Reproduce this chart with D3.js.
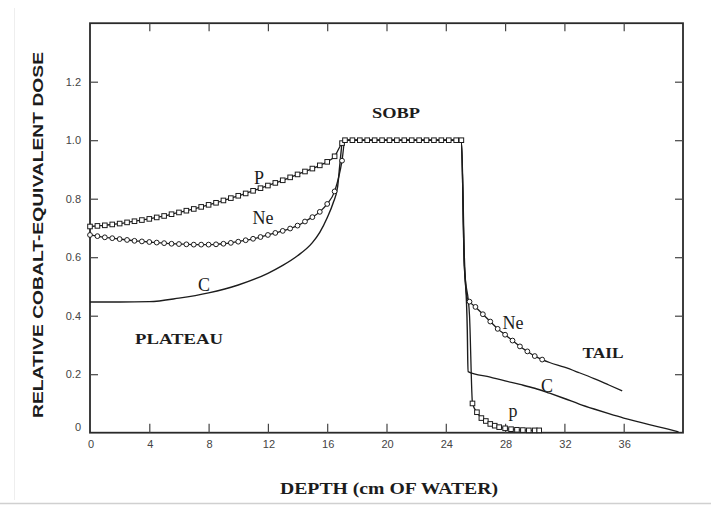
<!DOCTYPE html>
<html>
<head>
<meta charset="utf-8">
<script src="https://cdn.jsdelivr.net/npm/d3@7/dist/d3.min.js"></script>
<style>
  html, body { margin: 0; padding: 0; background: #fff; }
  svg { display: block; }
</style>
</head>
<body>
<svg id="chart" width="711" height="507"></svg>
<script>
// ---------------- DATA ----------------
const xTicks = [0, 4, 8, 12, 16, 20, 24, 28, 32, 36];
const xTickLabels = ["0", "4", "8", "12", "16", "20", "24", "28", "32", "36"];
const yTicks = [0, 0.2, 0.4, 0.6, 0.8, 1.0, 1.2];
const yTickLabels = ["0", "0.2", "0.4", "0.6", "0.8", "1.0", "1.2"];

// Plateau / rising part (shared depths for p and Ne)
const riseDepth = [0, 0.5, 1, 1.5, 2, 2.5, 3, 3.5, 4, 4.5, 5, 5.5, 6, 6.5, 7, 7.5, 8, 8.5,
  9, 9.5, 10, 10.5, 11, 11.5, 12, 12.5, 13, 13.5, 14, 14.5, 15, 15.5, 16, 16.5, 17];
const pRise = [0.705, 0.707, 0.709, 0.712, 0.715, 0.719, 0.723, 0.727, 0.731, 0.736, 0.741,
  0.747, 0.753, 0.759, 0.765, 0.772, 0.779, 0.786, 0.794, 0.802, 0.810, 0.818, 0.827, 0.836,
  0.845, 0.854, 0.863, 0.873, 0.883, 0.893, 0.903, 0.914, 0.926, 0.945, 0.99];
const neRise = [0.676, 0.672, 0.668, 0.665, 0.662, 0.659, 0.656, 0.654, 0.652, 0.650, 0.648,
  0.646, 0.645, 0.644, 0.643, 0.643, 0.643, 0.644, 0.646, 0.649, 0.653, 0.658, 0.663, 0.669,
  0.676, 0.683, 0.690, 0.698, 0.708, 0.722, 0.737, 0.755, 0.782, 0.825, 0.93];

// Spread-out Bragg peak (SOBP)
const sobpDepth = [17.2, 17.7, 18.2, 18.7, 19.2, 19.7, 20.2, 20.7, 21.2, 21.7, 22.2, 22.7,
  23.2, 23.7, 24.2, 24.7, 25.05];
const sobpDose = [1.0, 1.0, 1.0, 1.0, 1.0, 1.0, 1.0, 1.0, 1.0, 1.0, 1.0, 1.0,
  1.0, 1.0, 1.0, 1.0, 1.0];

// Distal fall-off
const pDropDepth = [25.25, 25.6];
const pDropDose = [0.57, 0.40];
const neDropDepth = [25.25, 25.45];
const neDropDose = [0.57, 0.46];

// Tails
const pTailDepth = [25.8, 26.1, 26.4, 26.7, 27.0, 27.3, 27.6, 28.0, 28.4, 28.8, 29.2, 29.6, 30.0, 30.3];
const pTailDose = [0.10, 0.07, 0.05, 0.04, 0.03, 0.024, 0.019, 0.015, 0.012, 0.010, 0.009, 0.008, 0.008, 0.008];
const neTailDepth = [25.6, 26.0, 26.5, 27.0, 27.5, 28.0, 28.5, 29.0, 29.5, 30.0, 30.5];
const neTailDose = [0.448, 0.43, 0.405, 0.38, 0.355, 0.335, 0.315, 0.295, 0.278, 0.262, 0.25];
const neTailLineDepth = [31, 32, 33, 34, 35, 35.9];
const neTailLineDose = [0.24, 0.224, 0.205, 0.185, 0.163, 0.143];

// Carbon (solid line only)
const cDepth = [0, 2, 4, 6, 8, 10, 12, 13, 14, 15, 15.5, 16, 16.4, 16.7, 16.86, 17.05,
  25.05, 25.25, 25.45, 25.5, 27, 28, 29, 30, 31, 32, 33, 34, 35, 36, 37, 38, 39, 39.7];
const cDose = [0.447, 0.447, 0.448, 0.46, 0.478, 0.505, 0.545, 0.572, 0.605, 0.65, 0.685,
  0.735, 0.785, 0.84, 0.92, 1.0,
  1.0, 0.60, 0.35, 0.209, 0.19, 0.177, 0.165, 0.152, 0.135, 0.117, 0.098, 0.081, 0.065,
  0.05, 0.037, 0.024, 0.012, 0.003];

// ---------------- DRAW ----------------
const svg = d3.select("#chart");
const W = 711, H = 507;
const x = d3.scaleLinear().domain([0, 40]).range([90, 683]);
const y = d3.scaleLinear().domain([0, 1.4]).range([432.7, 23.2]);
const ink = "#1c1c1c";

const zip = (a, b) => a.map((d, i) => [d, b[i]]);

// faint scan edges
svg.append("line").attr("x1", 0).attr("x2", W).attr("y1", 503.5).attr("y2", 503.5)
  .attr("stroke", "#d0d0d0").attr("stroke-width", 1.5);
svg.append("line").attr("x1", 14.5).attr("x2", 14.5).attr("y1", 8).attr("y2", 500)
  .attr("stroke", "#eeeeee").attr("stroke-width", 1);

// frame
svg.append("rect")
  .attr("x", x(0)).attr("y", y(1.4))
  .attr("width", x(40) - x(0)).attr("height", y(0) - y(1.4))
  .attr("fill", "none").attr("stroke", "#2a2a2a").attr("stroke-width", 1.8);

// axes with inward ticks
const bottomAxis = d3.axisBottom(x).tickValues(xTicks.slice(1)).tickSize(-9).tickFormat("");
const topAxis = d3.axisTop(x).tickValues(xTicks.slice(1)).tickSize(-8).tickFormat("");
const leftAxis = d3.axisLeft(y).tickValues(yTicks.slice(1)).tickSize(-8).tickFormat("");
const rightAxis = d3.axisRight(y).tickValues(yTicks.slice(1)).tickSize(-8).tickFormat("");
function styleAxis(g) {
  g.select(".domain").remove();
  g.selectAll(".tick line").attr("stroke", "#444").attr("stroke-width", 1.2);
}
svg.append("g").attr("transform", `translate(0,${y(0)})`).call(bottomAxis).call(styleAxis);
svg.append("g").attr("transform", `translate(0,${y(1.4)})`).call(topAxis).call(styleAxis);
svg.append("g").attr("transform", `translate(${x(0)},0)`).call(leftAxis).call(styleAxis);
svg.append("g").attr("transform", `translate(${x(40)},0)`).call(rightAxis).call(styleAxis);

// tick labels
svg.append("g").selectAll("text").data(xTicks).join("text")
  .attr("x", d => x(d) + 1).attr("y", 448)
  .attr("text-anchor", "middle")
  .attr("font-family", "Liberation Sans Narrow, Liberation Sans, sans-serif")
  .attr("font-size", 11).attr("fill", "#444")
  .text((d, i) => xTickLabels[i]);
svg.append("g").selectAll("text").data(yTicks).join("text")
  .attr("x", 81).attr("y", d => d === 0 ? y(d) - 2 : y(d) + 4)
  .attr("text-anchor", "end")
  .attr("font-family", "Liberation Sans Narrow, Liberation Sans, sans-serif")
  .attr("font-size", 11).attr("fill", "#444")
  .text((d, i) => yTickLabels[i]);

// axis titles
svg.append("text")
  .attr("x", 389).attr("y", 494)
  .attr("text-anchor", "middle")
  .attr("font-family", "Liberation Serif, serif").attr("font-weight", "bold")
  .attr("font-size", 16).attr("fill", ink)
  .attr("textLength", 218).attr("lengthAdjust", "spacingAndGlyphs")
  .text("DEPTH  (cm  OF  WATER)");
svg.append("text")
  .attr("transform", "translate(43,235) rotate(-90)")
  .attr("text-anchor", "middle")
  .attr("font-family", "Liberation Sans, sans-serif").attr("font-weight", "bold")
  .attr("font-size", 14).attr("fill", ink)
  .attr("textLength", 366).attr("lengthAdjust", "spacingAndGlyphs")
  .text("RELATIVE COBALT-EQUIVALENT DOSE");

// curves
const line = d3.line().x(d => x(d[0])).y(d => y(d[1])).curve(d3.curveMonotoneX);
const g = svg.append("g");

const pLine = zip(riseDepth, pRise).concat(zip(sobpDepth, sobpDose), zip(pDropDepth, pDropDose), zip(pTailDepth, pTailDose));
const neLine = zip(riseDepth, neRise).concat(zip(sobpDepth, sobpDose), zip(neDropDepth, neDropDose),
  zip(neTailDepth, neTailDose), zip(neTailLineDepth, neTailLineDose));
const cLine = zip(cDepth, cDose);

g.append("path").datum(cLine).attr("d", line)
  .attr("fill", "none").attr("stroke", ink).attr("stroke-width", 1.4);
g.append("path").datum(neLine).attr("d", line)
  .attr("fill", "none").attr("stroke", ink).attr("stroke-width", 1.3);
g.append("path").datum(pLine).attr("d", line)
  .attr("fill", "none").attr("stroke", ink).attr("stroke-width", 1.3);

// markers: open circles for Ne, open squares for p
const neMarks = zip(riseDepth, neRise).concat(zip(neTailDepth, neTailDose));
g.append("g").selectAll("circle").data(neMarks).join("circle")
  .attr("cx", d => x(d[0])).attr("cy", d => y(d[1])).attr("r", 2.4)
  .attr("fill", "#fff").attr("stroke", ink).attr("stroke-width", 1);
const pMarks = zip(riseDepth, pRise).concat(zip(sobpDepth, sobpDose), zip(pTailDepth, pTailDose));
const sq = 4.6;
g.append("g").selectAll("rect").data(pMarks).join("rect")
  .attr("x", d => x(d[0]) - sq / 2).attr("y", d => y(d[1]) - sq / 2)
  .attr("width", sq).attr("height", sq)
  .attr("fill", "#fff").attr("stroke", ink).attr("stroke-width", 1);

// annotations
const labels = [
  { t: "SOBP", x: 396, y: 118, size: 14, bold: true, len: 48 },
  { t: "PLATEAU", x: 179, y: 344, size: 15, bold: true, len: 88 },
  { t: "TAIL", x: 603, y: 358, size: 14, bold: true, len: 41 },
  { t: "P", x: 259, y: 184, size: 18, bold: false },
  { t: "Ne", x: 263, y: 224, size: 18, bold: false },
  { t: "C", x: 204, y: 291, size: 18, bold: false },
  { t: "Ne", x: 513, y: 329, size: 18, bold: false },
  { t: "C", x: 547, y: 392, size: 18, bold: false },
  { t: "p", x: 513, y: 417, size: 18, bold: false }
];
svg.append("g").selectAll("text").data(labels).join("text")
  .attr("x", d => d.x).attr("y", d => d.y)
  .attr("text-anchor", "middle")
  .attr("font-family", "Liberation Serif, serif")
  .attr("font-weight", d => d.bold ? "bold" : "normal")
  .attr("font-size", d => d.size).attr("fill", ink)
  .each(function (d) { if (d.len) d3.select(this).attr("textLength", d.len).attr("lengthAdjust", "spacingAndGlyphs"); })
  .text(d => d.t);
</script>
</body>
</html>
